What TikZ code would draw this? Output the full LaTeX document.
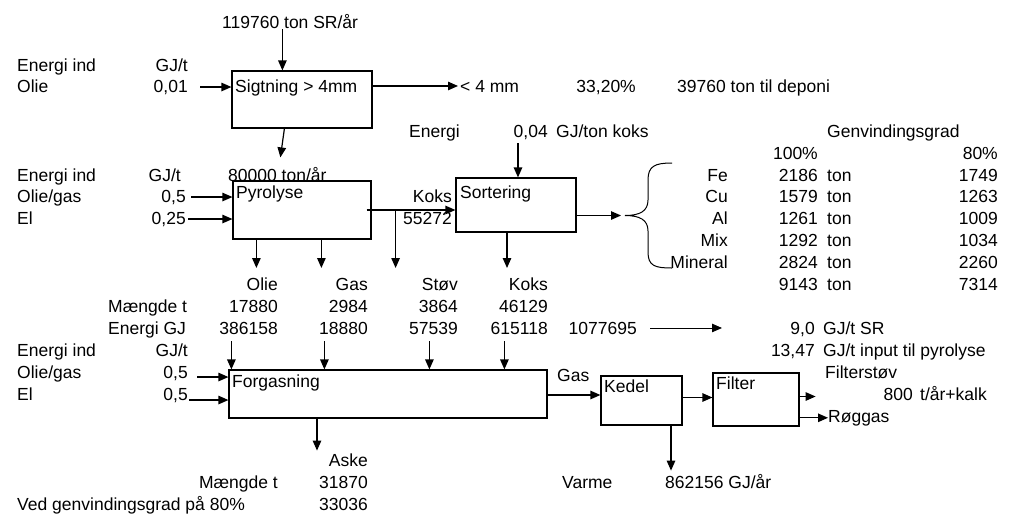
\documentclass[tikz,border=0pt]{standalone}
\usepackage{fontspec}
\setmainfont{Liberation Sans}
\usetikzlibrary{arrows.meta,positioning}
\newcommand{\dfont}{\fontsize{17.5}{21}\selectfont}

\begin{document}
\begin{tikzpicture}[x=1pt, y=-1pt,
  lt/.style={inner sep=0pt, anchor=base west, font=\dfont},
  rt/.style={inner sep=0pt, anchor=base east, font=\dfont},
  proc/.style={draw, line width=1.2pt, inner sep=0pt},
  arr/.style={-{Triangle[length=10pt, width=8.5pt]}, line width=1.2pt},
]
  \useasboundingbox (0,0) rectangle (1012,517);

  % ── Boxes ───────────────────────
  \node[proc, minimum width=140pt, minimum height=57pt] (sig)  at (302,99.5) {};
  \node[proc, minimum width=138pt, minimum height=58pt] (pyr)  at (302,210) {};
  \node[proc, minimum width=120pt, minimum height=54pt] (sort) at (516,205) {};
  \node[proc, minimum width=318pt, minimum height=48pt] (forg) at (388,394) {};
  \node[proc, minimum width=81pt,  minimum height=49pt] (ked)  at (641.5,400.5) {};
  \node[proc, minimum width=86pt,  minimum height=53pt] (filt) at (756,399.5) {};
  \node[lt] at (235,92)  {Sigtning > 4mm};
  \node[lt] at (236,198) {Pyrolyse};
  \node[lt] at (460,198) {Sortering};
  \node[lt] at (232,387) {Forgasning};
  \node[lt] at (604,392) {Kedel};
  \node[lt] at (716,389) {Filter};

  % ── Sigtning ────────────────────
  \node[lt] (tin) at (222,28) {119760 ton SR/år};
  \node[lt] at (17,71) {Energi ind};
  \node[rt] at (188,71) {GJ/t};
  \node[lt] at (17,92) {Olie};
  \node[rt] (v001) at (188,92) {0,01};
  \node[lt] (fine) at (460,92) {< 4 mm};
  \node[rt] at (636,92) {33,20\%};
  \node[lt] at (677,92) {39760 ton til deponi};

  % ── Pyrolyse ────────────────────
  \node[lt] at (17,181) {Energi ind};
  \node[rt] at (181,181) {GJ/t};
  \node[lt] at (228,181) {80000 ton/år};
  \node[lt] at (17,202) {Olie/gas};
  \node[rt] (vpy1) at (186,202) {0,5};
  \node[lt] at (17,224) {El};
  \node[rt] (vpy2) at (186,224) {0,25};
  \node[rt] at (452,202) {Koks};
  \node[rt] at (452,224) {55272};

  % ── Sortering ───────────────────
  \node[lt] at (409,137) {Energi};
  \node[rt] (v004) at (548,137) {0,04};
  \node[lt] at (556,137) {GJ/ton koks};
  \node[lt] at (827,137) {Genvindingsgrad};
  \node[rt] at (818,159) {100\%};
  \node[rt] at (998,159) {80\%};
  \foreach \y/\met/\a/\b in {181/Fe/2186/1749, 202/Cu/1579/1263,
      224/Al/1261/1009, 246/Mix/1292/1034, 268/Mineral/2824/2260} {
    \node[rt] at (728,\y) {\met};
    \node[rt] at (818,\y) {\a};
    \node[lt] at (827,\y) {ton};
    \node[rt] at (998,\y) {\b};
  }
  \node[rt] at (818,290) {9143};
  \node[lt] at (827,290) {ton};
  \node[rt] at (998,290) {7314};

  % ── Products ────────────────────
  \node[rt] at (278,290) {Olie};
  \node[rt] at (368,290) {Gas};
  \node[rt] at (458,290) {Støv};
  \node[rt] at (548,290) {Koks};
  \node[lt] at (108,312) {Mængde t};
  \node[rt] at (278,312) {17880};
  \node[rt] at (368,312) {2984};
  \node[rt] at (458,312) {3864};
  \node[rt] at (548,312) {46129};
  \node[lt] at (108,334) {Energi GJ};
  \node[rt] at (278,334) {386158};
  \node[rt] at (368,334) {18880};
  \node[rt] at (458,334) {57539};
  \node[rt] at (548,334) {615118};
  \node[rt] (etot) at (637,334) {1077695};
  \node[rt] (esr) at (815,334) {9,0};
  \node[lt] at (823,334) {GJ/t SR};
  \node[rt] at (815,356) {13,47};
  \node[lt] at (823,356) {GJ/t input til pyrolyse};

  % ── Forgasning ──────────────────
  \node[lt] at (17,356) {Energi ind};
  \node[rt] at (188,356) {GJ/t};
  \node[lt] at (17,378) {Olie/gas};
  \node[rt] (vfg1) at (188,378) {0,5};
  \node[lt] at (17,400) {El};
  \node[rt] (vfg2) at (188,400) {0,5};
  \node[lt] at (557,381) {Gas};
  \node[lt] at (825,378) {Filterstøv};
  \node[rt] at (913,400) {800};
  \node[lt] at (920,400) {t/år+kalk};
  \node[lt] (rog) at (828,422) {Røggas};
  \node[rt] at (368,466) {Aske};
  \node[rt] at (278,488) {Mængde t};
  \node[rt] at (368,488) {31870};
  \node[lt] at (17,510) {Ved genvindingsgrad på 80\%};
  \node[rt] at (368,510) {33036};
  \node[lt] at (562,488) {Varme};
  \node[lt] at (665,488) {862156 GJ/år};

  % ── Arrows ──────────────────────
  \coordinate (sigtop) at ([xshift=51pt]sig.north west);
  \coordinate (outrow) at (0,268);
  \coordinate (inrow) at (0,341);
  \coordinate (brtip) at (625,215.5);
  \draw[arr] ([yshift=-1pt]sigtop |- tin.south) -- (sigtop);
  \draw[arr] ([xshift=12pt]v001.east) -- (v001.east -| sig.west);
  \draw[arr] (sig.east |- fine.west) -- ([xshift=-2pt]fine.west);
  \draw[arr] ([xshift=53pt]sig.south west) -- ([xshift=48pt, yshift=23pt]pyr.north west);
  \draw[arr] ([xshift=5pt]vpy1.east) -- (vpy1.east -| pyr.west);
  \draw[arr] ([xshift=2pt]vpy2.east) -- (vpy2.east -| pyr.west);
  \draw[arr] ([xshift=-5pt]pyr.east) -- (pyr.east -| sort.west);
  \draw[arr] ([xshift=24pt]pyr.east) -- ([xshift=24pt]pyr.east |- outrow);
  \draw[arr] ([xshift=24pt]pyr.south west) -- ([xshift=24pt]pyr.south west |- outrow);
  \draw[arr] ([xshift=89pt]pyr.south west) -- ([xshift=89pt]pyr.south west |- outrow);
  \draw[arr] ([xshift=-9pt]sort.south) -- ([xshift=-9pt]sort.south |- outrow);
  \draw[arr] ([xshift=2pt, yshift=-4pt]sort.north |- v004.south) -- ([xshift=2pt]sort.north);
  \draw[arr] (sort.east |- brtip) -- ([xshift=-4pt]brtip);
  \draw[line width=1pt] (672,163) .. controls (655,163) and (648,166) .. (648,180)
    -- (648,200) .. controls (648,211) and (640,215.5) .. (brtip)
    .. controls (640,215.5) and (648,220) .. (648,231)
    -- (648,252) .. controls (648,266) and (655,268) .. (672,268);
  \draw[arr, line width=0.9pt] ([xshift=13pt]etot.east) -- ([xshift=85pt]etot.east);
  \draw[arr] ([xshift=9pt, yshift=-4pt]vfg1.east) -- ([yshift=-4pt]vfg1.east -| forg.west);
  \draw[arr] ([xshift=1pt, yshift=-5pt]vfg2.east) -- ([yshift=-5pt]vfg2.east -| forg.west);
  \foreach \dx in {3,96,201,276}
    \draw[arr] ([xshift=\dx pt]forg.north west |- inrow) -- ([xshift=\dx pt]forg.north west);
  \draw[arr] ([xshift=-71pt]forg.south) -- ++(0,32);
  \draw[arr] ([yshift=-1pt]forg.east) -- ([yshift=-1pt]forg.east -| ked.west);
  \draw[arr] ([yshift=3pt]ked.east) -- ([yshift=3pt]ked.east -| filt.west);
  \draw[arr] ([yshift=3pt]filt.east) -- ([xshift=16pt, yshift=3pt]filt.east);
  \draw[arr] (filt.east |- rog.west) -- (rog.west);
  \draw[arr] ([xshift=29.5pt]ked.south) -- ++(0,45);
\end{tikzpicture}
\end{document}
